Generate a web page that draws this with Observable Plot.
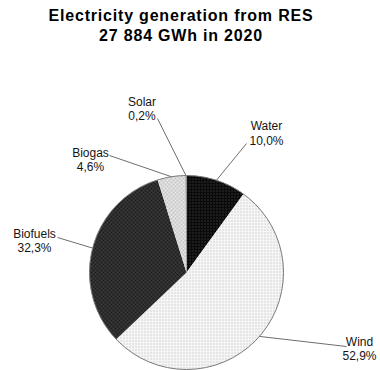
<!DOCTYPE html>
<html><head><meta charset="utf-8">
<script src="https://cdn.jsdelivr.net/npm/d3@7"></script>
<script src="https://cdn.jsdelivr.net/npm/@observablehq/plot@0.6"></script>
<style>
body{margin:0;background:#fff;font-family:"Liberation Sans",Arial,sans-serif;}
#title{width:362px;height:55px;box-sizing:border-box;padding-top:6px;text-align:center;font-weight:bold;font-size:16px;line-height:20px;letter-spacing:0.8px;color:#000;}
#chart{width:380px;height:315px;}
</style></head><body>
<svg width="0" height="0" style="position:absolute">
<defs>
<pattern id="pat-Water" width="3" height="3" patternUnits="userSpaceOnUse"><rect width="3" height="3" fill="#0a0a0a"/><rect width="1" height="1" fill="#555"/></pattern>
<pattern id="pat-Wind" width="3" height="3" patternUnits="userSpaceOnUse"><rect width="3" height="3" fill="#f5f5f5"/><rect width="1" height="1" fill="#b4b4b4"/></pattern>
<pattern id="pat-Biofuels" width="4" height="4" patternUnits="userSpaceOnUse"><rect width="4" height="4" fill="#1c1c1c"/><rect width="2" height="2" fill="#3e3e3e"/><rect x="2" y="2" width="2" height="2" fill="#3e3e3e"/></pattern>
<pattern id="pat-Biogas" width="4" height="4" patternUnits="userSpaceOnUse"><rect width="4" height="4" fill="#ebebeb"/><rect width="2" height="2" fill="#c4c4c4"/><rect x="2" y="2" width="2" height="2" fill="#c4c4c4"/></pattern>
<pattern id="pat-Solar" width="2" height="2" patternUnits="userSpaceOnUse"><rect width="2" height="2" fill="#999"/></pattern>
</defs>
</svg>
<div id="title">Electricity generation from RES<br>27 884 GWh in 2020</div>
<div id="chart"></div>
<script>
// Data
const sources = ["Water", "Wind", "Biofuels", "Biogas", "Solar"];
const shares = [10.0, 52.9, 32.3, 4.6, 0.2];

// Layout (pixel positions inside the SVG)
const W = 380, H = 315;
const pieLayout = {cx: 186, cy: 217, r: 97};
const labelCenters = {Water: [266, 77.5], Wind: [359, 293], Biofuels: [34, 185], Biogas: [90, 104], Solar: [141.5, 53]};
const leaderStarts = {Water: [246, 88], Wind: [346, 291], Biofuels: [57, 182], Biogas: [109, 100], Solar: [157, 63]};

const data = sources.map((name, i) => ({name, share: shares[i]}));
const arcs = d3.pie().sort(null).value(d => d.share)(data);
const pt = (a, r) => ({x: pieLayout.cx + r * Math.sin(a), y: pieLayout.cy - r * Math.cos(a)});

const slicePts = [];
for (const a of arcs) {
  const name = a.data.name;
  slicePts.push({name, ...pt(0, 0)});
  const n = Math.max(2, Math.ceil((a.endAngle - a.startAngle) / (Math.PI / 180)));
  for (let k = 0; k <= n; k++) {
    const ang = a.startAngle + (a.endAngle - a.startAngle) * k / n;
    slicePts.push({name, ...pt(ang, pieLayout.r)});
  }
  slicePts.push({name, ...pt(0, 0)});
}

const fmt = v => v.toFixed(1).replace(".", ",") + "%";
const leaders = arcs.map(a => {
  const mid = (a.startAngle + a.endAngle) / 2;
  const e = pt(mid, pieLayout.r);
  const s = leaderStarts[a.data.name];
  return {x1: s[0], y1: s[1], x2: e.x, y2: e.y};
});
const labels = arcs.map(a => ({
  x: labelCenters[a.data.name][0],
  y: labelCenters[a.data.name][1],
  text: a.data.name + "\n" + fmt(a.data.share)
}));

const chart = Plot.plot({
  width: W, height: H, margin: 0,
  style: {fontFamily: "'Liberation Sans', Arial, sans-serif", background: "#fff", color: "#111"},
  x: {domain: [0, W], range: [0, W], axis: null},
  y: {domain: [0, H], range: [0, H], axis: null},
  color: {type: "ordinal", domain: sources, range: sources.map(s => `url(#pat-${s})`)},
  marks: [
    Plot.line(slicePts, {x: "x", y: "y", z: "name", fill: "name", stroke: "none", curve: "linear"}),
    Plot.dot([pieLayout], {x: "cx", y: "cy", r: pieLayout.r, fill: "none", stroke: "#7a7a7a", strokeWidth: 1}),
    Plot.link(leaders, {x1: "x1", y1: "y1", x2: "x2", y2: "y2", stroke: "#6e6e6e", strokeWidth: 1}),
    Plot.text(labels, {x: "x", y: "y", text: "text", fontSize: 12, lineHeight: 1.17, fill: "#151515", textAnchor: "middle"})
  ]
});
document.getElementById("chart").appendChild(chart);
</script>
</body></html>
